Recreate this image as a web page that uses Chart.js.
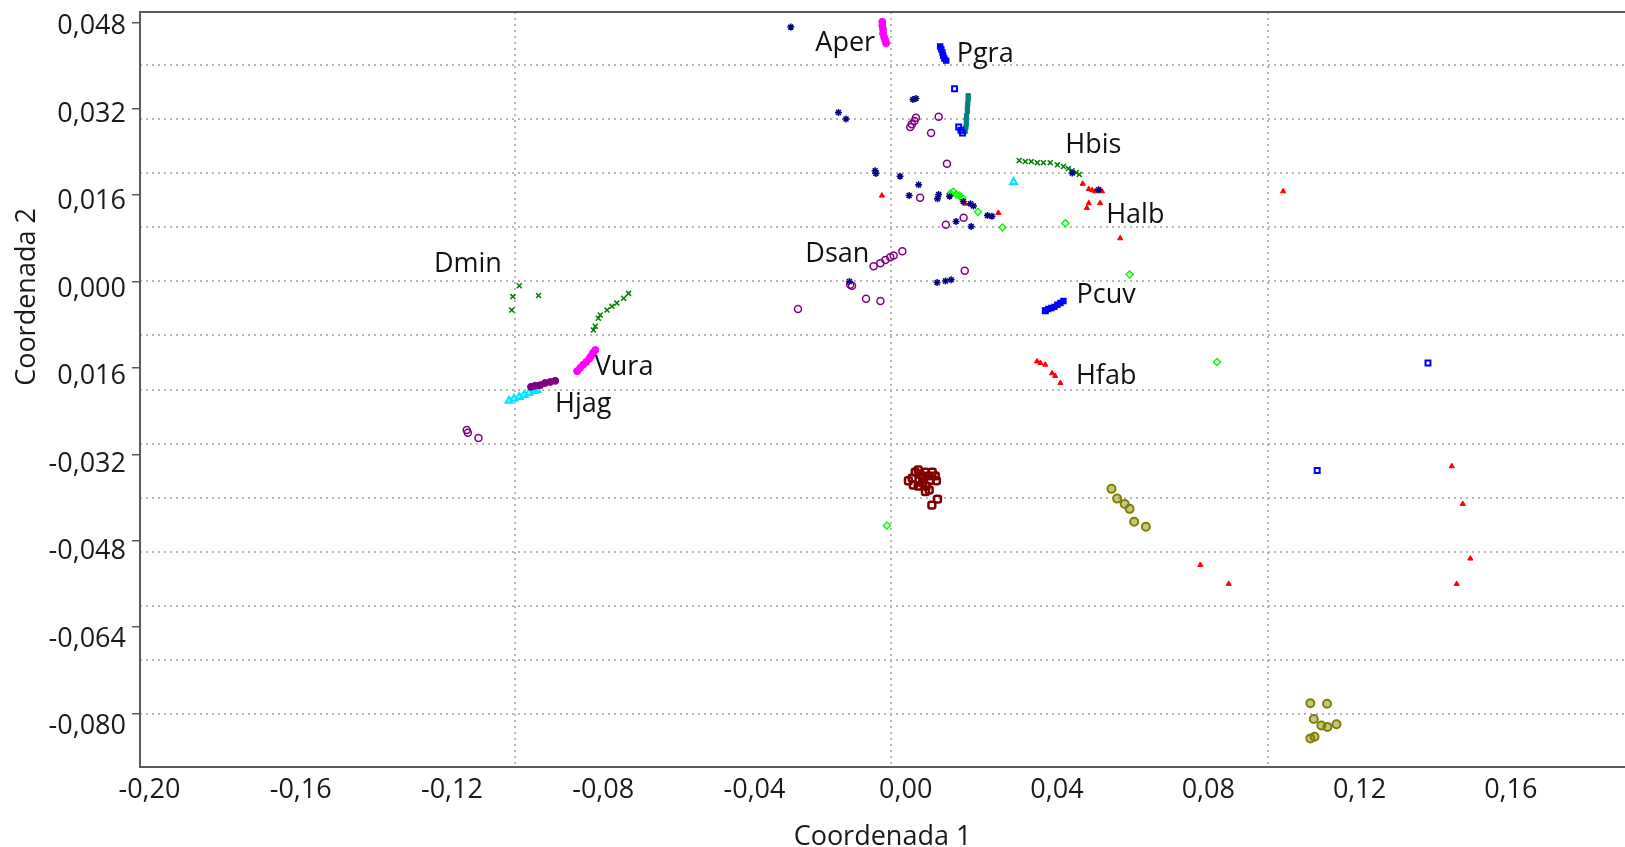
<!DOCTYPE html>
<html>
<head>
<meta charset="utf-8">
<script src="https://cdn.jsdelivr.net/npm/chart.js@4.4.1/dist/chart.umd.min.js"></script>
<style>
  html, body { margin: 0; padding: 0; background: #fff; }
  #wrap { width: 1625px; height: 847px; position: relative; }
</style>
</head>
<body>
<div id="wrap"><canvas id="pcoa"></canvas></div>
<script>
// axis ticks
const xTickValues = [-0.20, -0.16, -0.12, -0.08, -0.04, 0, 0.04, 0.08, 0.12, 0.16];
const xTickLabels = ['-0,20', '-0,16', '-0,12', '-0,08', '-0,04', '0,00', '0,04', '0,08', '0,12', '0,16'];
const yTickValues = [-0.080, -0.064, -0.048, -0.032, -0.016, 0, 0.016, 0.032, 0.048];
const yTickLabels = ['-0,080', '-0,064', '-0,048', '-0,032', '0,016', '0,000', '0,016', '0,032', '0,048'];

// point groups (coordenada 1 / coordenada 2)
const magentaX = [-0.0062, -0.0062, -0.0060, -0.0060, -0.0057, -0.0054, -0.0052, -0.0869, -0.0861, -0.0853, -0.0845, -0.0837, -0.0832, -0.0827, -0.0821];
const magentaY = [0.0481, 0.0474, 0.0467, 0.0459, 0.0452, 0.0446, 0.0441, -0.0166, -0.0160, -0.0154, -0.0149, -0.0143, -0.0138, -0.0132, -0.0127];

// blue: dense Pgra / Pcuv clusters, then scattered squares
const blueX = [0.0091, 0.0094, 0.0097, 0.0099, 0.0102, 0.0107, 0.0369, 0.0377, 0.0385, 0.0393, 0.0401, 0.0409, 0.0417];
const blueY = [0.0435, 0.0430, 0.0424, 0.0418, 0.0413, 0.0409, -0.0054, -0.0051, -0.0049, -0.0047, -0.0043, -0.0040, -0.0036];
const blueOutX = [0.0129, 0.0140, 0.0146, 0.0150, 0.1381, 0.1088, 0.0369];
const blueOutY = [0.0357, 0.0286, 0.0280, 0.0275, -0.0151, -0.0350, -0.0054];

const tealX = [0.0165, 0.0165, 0.0164, 0.0163, 0.0163, 0.0161, 0.0160, 0.0160, 0.0159, 0.0157];
const tealY = [0.0344, 0.0337, 0.0329, 0.0322, 0.0315, 0.0307, 0.0300, 0.0292, 0.0285, 0.0278];

const navyX = [-0.0304, -0.0178, -0.0158, 0.0019, 0.0027, -0.0081, -0.0079, -0.0015, 0.0034, 0.0009, 0.0087, 0.0084, 0.0116, 0.0152, 0.0171, 0.0179, 0.0216, 0.0228, 0.0133, 0.0173, 0.0440, 0.0510, -0.0149, 0.0083, 0.0105, 0.0120];
const navyY = [0.0471, 0.0313, 0.0301, 0.0337, 0.0339, 0.0205, 0.0200, 0.0195, 0.0179, 0.0159, 0.0161, 0.0153, 0.0158, 0.0148, 0.0144, 0.0140, 0.0122, 0.0121, 0.0111, 0.0102, 0.0201, 0.0170, 0.0000, -0.0002, 0.0001, 0.0003];

const purpleX = [0.0027, 0.0023, 0.0016, 0.0012, 0.0087, 0.0067, 0.0109, 0.0038, 0.0106, 0.0153, -0.0085, -0.0067, -0.0054, -0.0041, -0.0032, -0.0009, -0.0147, -0.0142, -0.0105, -0.0067, -0.0285, 0.0156, -0.1161, -0.1158, -0.1130];
const purpleY = [0.0303, 0.0297, 0.0291, 0.0286, 0.0305, 0.0275, 0.0218, 0.0155, 0.0105, 0.0118, 0.0028, 0.0034, 0.0040, 0.0045, 0.0048, 0.0056, -0.0006, -0.0008, -0.0032, -0.0036, -0.0051, 0.0020, -0.0275, -0.0280, -0.0290];

const plumX = [-0.0991, -0.0980, -0.0967, -0.0954, -0.0940, -0.0927];
const plumY = [-0.0195, -0.0193, -0.0192, -0.0188, -0.0186, -0.0184];

const cyanX = [-0.1049, -0.1036, -0.1022, -0.1009, -0.0996, -0.0983, -0.0975, 0.0285];
const cyanY = [-0.0221, -0.0217, -0.0214, -0.0210, -0.0206, -0.0203, -0.0201, 0.0184];

const greenX = [0.0300, 0.0316, 0.0332, 0.0348, 0.0364, 0.0382, 0.0401, 0.0417, 0.0430, 0.0440, 0.0451, 0.0459,
  -0.1022, -0.0971, -0.1039, -0.1042,
  -0.0826, -0.0821, -0.0813, -0.0808, -0.0790, -0.0777, -0.0764, -0.0746, -0.0733];
const greenY = [0.0224, 0.0222, 0.0222, 0.0220, 0.0220, 0.0220, 0.0216, 0.0213, 0.0209, 0.0205, 0.0202, 0.0198,
  -0.0008, -0.0026, -0.0028, -0.0053,
  -0.0090, -0.0083, -0.0068, -0.0062, -0.0053, -0.0046, -0.0040, -0.0031, -0.0022];

const redX = [0.0468, 0.0484, 0.0493, 0.0501, 0.0519, 0.0484, 0.0479, 0.0514, 0.0567,
  -0.0063, 0.0157, 0.0245,
  0.0347, 0.0356, 0.0369, 0.0387, 0.0395, 0.0409,
  0.0998, 0.0779, 0.0854, 0.1444, 0.1473, 0.1493, 0.1457];
const redY = [0.0181, 0.0171, 0.0169, 0.0167, 0.0167, 0.0145, 0.0136, 0.0145, 0.0080,
  0.0159, 0.0144, 0.0127,
  -0.0148, -0.0151, -0.0154, -0.0170, -0.0175, -0.0188,
  0.0167, -0.0525, -0.0560, -0.0342, -0.0412, -0.0513, -0.0560];

const limeX = [0.0118, 0.0126, 0.0134, 0.0142, 0.0149, 0.0191, 0.0256, 0.0422, 0.0592, 0.0823, -0.0050];
const limeY = [0.0163, 0.0166, 0.0161, 0.0159, 0.0155, 0.0129, 0.0100, 0.0108, 0.0013, -0.0149, -0.0452];

const maroonX = [0.0007, 0.0017, 0.0025, 0.0033, 0.0038, 0.0046, 0.0052, 0.0060, 0.0065, 0.0070, 0.0078, 0.0081, 0.0020, 0.0033, 0.0044, 0.0054, 0.0062, 0.0052, 0.0069, 0.0084];
const maroonY = [-0.0369, -0.0364, -0.0353, -0.0349, -0.0357, -0.0364, -0.0353, -0.0360, -0.0368, -0.0353, -0.0360, -0.0369, -0.0377, -0.0379, -0.0373, -0.0379, -0.0386, -0.0389, -0.0414, -0.0403];

const oliveX = [0.0544, 0.0559, 0.0579, 0.0592, 0.0604, 0.0635, 0.1070, 0.1114, 0.1079, 0.1099, 0.1115, 0.1139, 0.1070, 0.1081];
const oliveY = [-0.0384, -0.0402, -0.0412, -0.0421, -0.0445, -0.0454, -0.0781, -0.0782, -0.0810, -0.0822, -0.0825, -0.0820, -0.0846, -0.0843];

// group names written on the plot
const tagNames = ['Aper', 'Pgra', 'Hbis', 'Halb', 'Dsan', 'Dmin', 'Pcuv', 'Vura', 'Hfab', 'Hjag'];
const tagX = [-0.0160, 0.0210, 0.0496, 0.0607, -0.0181, -0.1158, 0.0530, -0.0745, 0.0530, -0.0853];
const tagY = [0.0441, 0.0420, 0.0253, 0.0122, 0.0050, 0.0031, -0.0025, -0.0159, -0.0176, -0.0227];

const FONT = "'Open Sans', 'Noto Sans', sans-serif";
const TXT = '#1a1a1a';
const AXIS = '#5a5a5a';
const GRID = 'rgba(185,172,172,0.9)';
const NONE = 'rgba(0,0,0,0)';

function pts(xs, ys) {
    return xs.map((x, i) => ({ x: x, y: ys[i] }));
}

function group(xs, ys, color, style, r, fill, bw) {
    return {
        data: pts(xs, ys),
        pointStyle: style,
        pointRadius: r,
        pointHoverRadius: r,
        borderColor: color,
        backgroundColor: fill,
        pointBorderWidth: bw,
        borderWidth: bw
    };
}

const tagPlugin = {
    id: 'tags',
    afterDatasetsDraw(chart) {
        const ctx = chart.ctx;
        const xs = chart.scales.x, ys = chart.scales.y;
        ctx.save();
        ctx.font = '27px ' + FONT;
        ctx.fillStyle = '#111';
        ctx.textAlign = 'center';
        ctx.textBaseline = 'middle';
        tagNames.forEach((t, i) => {
            ctx.fillText(t, xs.getPixelForValue(tagX[i]), ys.getPixelForValue(tagY[i]));
        });
        // y axis title
        ctx.translate(27, 297);
        ctx.rotate(-Math.PI / 2);
        ctx.fillStyle = TXT;
        ctx.fillText('Coordenada 2', 0, 0);
        ctx.restore();
    }
};

const X_MIN = -0.2025, X_MAX = 0.1902;
const Y_MIN = -0.0899, Y_MAX = 0.0499;
// the printed y labels sit on a slightly stretched scale compared with the tick marks
const YL_MIN = -0.08745, YL_MAX = 0.05069;
const XG_MIN = -0.1994, XG_MAX = 0.1947;

function noPad(s) {
    s.paddingTop = 0;
    s.paddingBottom = 0;
    s.paddingLeft = 0;
    s.paddingRight = 0;
}

new Chart(document.getElementById('pcoa'), {
    type: 'scatter',
    data: {
        datasets: [
            group(magentaX, magentaY, '#ff00ff', 'circle', 3.5, '#ff00ff', 1),
            group(blueX, blueY, '#0000ff', 'rect', 3.5, '#0000ff', 1.5),
            group(blueOutX, blueOutY, '#0000ff', 'rect', 3.5, NONE, 2),
            group(tealX, tealY, '#008080', 'rect', 3, '#008080', 1),
            group(navyX, navyY, '#000080', 'star', 3.5, '#000080', 1.5),
            group(purpleX, purpleY, '#800080', 'circle', 3.5, NONE, 1.5),
            group(plumX, plumY, '#800080', 'circle', 3.5, '#800080', 1),
            group(cyanX, cyanY, '#00e5ff', 'triangle', 4, 'rgba(0,255,255,0.35)', 2),
            group(greenX, greenY, '#008000', 'crossRot', 3.5, NONE, 1.5),
            group(redX, redY, '#ff0000', 'triangle', 3, '#ff0000', 1),
            group(limeX, limeY, '#00ff00', 'rectRot', 3.5, NONE, 1.5),
            group(maroonX, maroonY, '#800000', 'rectRounded', 4, NONE, 2.5),
            group(oliveX, oliveY, '#808000', 'circle', 4, 'rgba(128,128,0,0.45)', 2)
        ]
    },
    options: {
        responsive: true,
        maintainAspectRatio: false,
        animation: false,
        layout: { autoPadding: false, padding: { top: 12, right: 0, bottom: 0, left: 0 } },
        plugins: {
            legend: { display: false },
            tooltip: { enabled: false }
        },
        scales: {
            x: {
                type: 'linear',
                position: 'bottom',
                min: X_MIN,
                max: X_MAX,
                afterBuildTicks: (s) => { s.ticks = xTickValues.map(v => ({ value: v })); },
                afterFit: (s) => { s.height = 80; noPad(s); },
                grid: { display: true, drawOnChartArea: false, drawTicks: false },
                border: { display: true, color: AXIS, width: 2 },
                ticks: {
                    padding: 7,
                    color: TXT,
                    font: { family: FONT, size: 27 },
                    maxRotation: 0,
                    autoSkip: false,
                    callback: (v, i) => xTickLabels[i]
                },
                title: {
                    display: true,
                    text: 'Coordenada 1',
                    color: TXT,
                    font: { family: FONT, size: 27, lineHeight: 0.75 },
                    padding: { top: 0, bottom: 0 }
                }
            },
            xg: {
                type: 'linear',
                position: 'bottom',
                min: XG_MIN,
                max: XG_MAX,
                afterBuildTicks: (s) => { s.ticks = [-0.1, 0, 0.1].map(v => ({ value: v })); },
                afterFit: (s) => { s.height = 0; noPad(s); },
                ticks: { display: false },
                border: { display: false, dash: [2, 4] },
                grid: { color: GRID, lineWidth: 2, drawTicks: false }
            },
            xt: {
                type: 'linear',
                position: 'top',
                min: X_MIN,
                max: X_MAX,
                afterFit: (s) => { s.height = 0; noPad(s); },
                ticks: { display: false },
                grid: { display: true, drawOnChartArea: false, drawTicks: false },
                border: { display: true, color: AXIS, width: 2 }
            },
            // data axis: carries the small tick marks and the left border
            y: {
                type: 'linear',
                position: 'left',
                weight: 0,
                min: Y_MIN,
                max: Y_MAX,
                afterBuildTicks: (s) => { s.ticks = yTickValues.map(v => ({ value: v })); },
                afterFit: (s) => { s.width = 8; noPad(s); },
                grid: { display: true, drawOnChartArea: false, drawTicks: true, tickLength: 8, color: AXIS, lineWidth: 1.5 },
                border: { display: true, color: AXIS, width: 2 },
                ticks: { display: false }
            },
            // printed tick labels
            yl: {
                type: 'linear',
                position: 'left',
                weight: 1,
                min: YL_MIN,
                max: YL_MAX,
                afterBuildTicks: (s) => { s.ticks = yTickValues.map(v => ({ value: v })); },
                afterFit: (s) => { s.width = 132; noPad(s); },
                grid: { display: false, drawTicks: false },
                border: { display: false },
                ticks: {
                    padding: 6,
                    color: TXT,
                    font: { family: FONT, size: 27 },
                    autoSkip: false,
                    callback: (v, i) => yTickLabels[i]
                }
            },
            yg: {
                type: 'linear',
                position: 'left',
                weight: 2,
                min: Y_MIN,
                max: Y_MAX,
                afterFit: (s) => { s.width = 0; noPad(s); },
                ticks: { display: false, stepSize: 0.01 },
                border: { display: false, dash: [2, 4] },
                grid: { color: GRID, lineWidth: 2, drawTicks: false }
            }
        }
    },
    plugins: [tagPlugin]
});
</script>
</body>
</html>
